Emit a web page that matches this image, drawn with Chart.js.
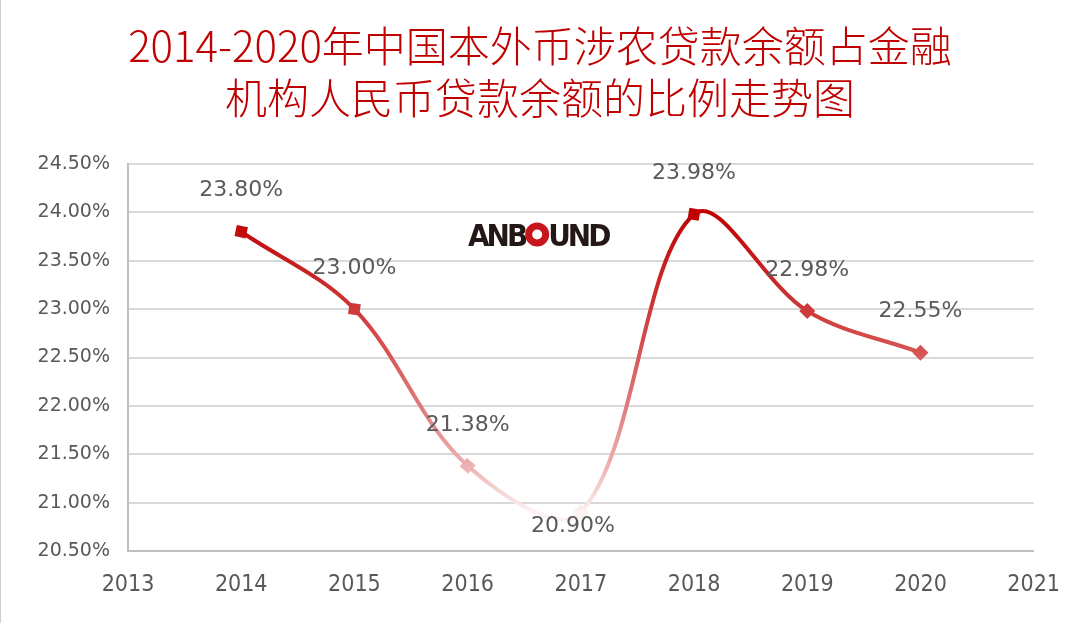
<!DOCTYPE html>
<html>
<head>
<meta charset="utf-8">
<script src="https://cdn.jsdelivr.net/npm/chart.js@4.4.1/dist/chart.umd.min.js"></script>
<style>
html,body{margin:0;padding:0;background:#fff;}
#wrap{width:1080px;height:623px;position:relative;}
</style>
</head>
<body>
<div id="wrap"><canvas id="c" width="1080" height="623"></canvas></div>
<script>
const titleLines = ['2014-2020年中国本外币涉农贷款余额占金融', '机构人民币贷款余额的比例走势图'];
const years = [2014, 2015, 2016, 2017, 2018, 2019, 2020];
const shares = [23.80, 23.00, 21.38, 20.90, 23.98, 22.98, 22.55];
const yTicks = [20.5, 21.0, 21.5, 22.0, 22.5, 23.0, 23.5, 24.0, 24.5];
const xTicks = [2013, 2014, 2015, 2016, 2017, 2018, 2019, 2020, 2021];
const watermarkLeft = 'ANB';
const watermarkRight = 'UND';

const points = years.map((yr, i) => ({x: yr, y: shares[i]}));

let gradCache = null;
function lineGradient(ctx) {
  const chart = ctx.chart;
  const ca = chart.chartArea;
  if (!ca) return '#c00000';
  const ys = chart.scales.y;
  const key = ca.top + '-' + ca.bottom;
  if (gradCache && gradCache.key === key) return gradCache.g;
  const y0 = ys.getPixelForValue(24.0);
  const y1 = ys.getPixelForValue(20.9);
  const g = chart.ctx.createLinearGradient(0, y0, 0, y1);
  g.addColorStop(0, '#c00000');
  g.addColorStop(0.3, '#cd3434');
  g.addColorStop(0.45, '#d75151');
  g.addColorStop(0.65, '#e07c7c');
  g.addColorStop(0.85, '#eeb2b2');
  g.addColorStop(1, '#fdf2f2');
  gradCache = {key, g};
  return g;
}

const labelPlugin = {
  id: 'valueLabels',
  afterDatasetsDraw(chart) {
    const ctx = chart.ctx;
    const meta = chart.getDatasetMeta(0);
    ctx.save();
    ctx.font = '22px "DejaVu Sans"';
    ctx.fillStyle = '#5a5a5a';
    ctx.textAlign = 'center';
    ctx.textBaseline = 'middle';
    const minV = Math.min(...shares);
    meta.data.forEach((pt, i) => {
      const txt = shares[i].toFixed(2) + '%';
      if (shares[i] === minV) ctx.fillText(txt, pt.x - 8, pt.y + 14);
      else ctx.fillText(txt, pt.x, pt.y - 41);
    });
    ctx.restore();
  }
};

const decoPlugin = {
  id: 'deco',
  beforeDraw(chart) {
    const ctx = chart.ctx;
    ctx.save();
    ctx.fillStyle = '#ffffff';
    ctx.fillRect(0, 0, chart.width, chart.height);
    ctx.strokeStyle = '#d0d0d0';
    ctx.lineWidth = 1;
    ctx.beginPath();
    ctx.moveTo(0.5, 0);
    ctx.lineTo(0.5, chart.height);
    ctx.stroke();
    ctx.fillStyle = '#c00000';
    ctx.font = '300 42px "Noto Sans CJK SC"';
    ctx.textAlign = 'center';
    ctx.textBaseline = 'middle';
    ctx.fillText(titleLines[0], 540, 46);
    ctx.fillText(titleLines[1], 540, 98);
    ctx.restore();
  },
  afterDraw(chart) {
    const ctx = chart.ctx;
    ctx.save();
    ctx.font = 'bold 31px "DejaVu Sans Condensed", "DejaVu Sans"';
    ctx.textBaseline = 'alphabetic';
    ctx.textAlign = 'left';
    ctx.fillStyle = '#231815';
    try { ctx.letterSpacing = '-3px'; } catch(e) {}
    let x = 468;
    const base = 246;
    ctx.fillText(watermarkLeft, x, base);
    x += ctx.measureText(watermarkLeft).width;
    const r = 12;
    const cx = x + r;
    const cy = base - 11.5;
    ctx.beginPath();
    ctx.arc(cx, cy, r, 0, Math.PI * 2);
    ctx.fillStyle = '#c8161d';
    ctx.fill();
    ctx.beginPath();
    ctx.arc(cx, cy, 5, 0, Math.PI * 2);
    ctx.fillStyle = '#ffffff';
    ctx.fill();
    ctx.fillStyle = '#231815';
    ctx.fillText(watermarkRight, cx + r - 1, base);
    ctx.restore();
  }
};

new Chart(document.getElementById('c'), {
  type: 'line',
  data: {
    datasets: [{
      data: points,
      borderColor: lineGradient,
      backgroundColor: lineGradient,
      pointBackgroundColor: lineGradient,
      pointBorderColor: lineGradient,
      borderWidth: 4,
      tension: 0.35,
      pointStyle: 'rect',
      pointRadius: 8,
      pointRotation: [12, 8, 40, 45, 10, 45, 45],
      pointBorderWidth: 0,
      fill: false
    }]
  },
  options: {
    responsive: false,
    animation: false,
    devicePixelRatio: 1,
    layout: {padding: {left: 0, right: 44, top: 164, bottom: 0}},
    plugins: {
      legend: {display: false},
      tooltip: {enabled: false},
      title: {display: false}
    },
    scales: {
      x: {
        type: 'linear',
        min: 2013,
        max: 2021,
        afterBuildTicks(scale) { scale.ticks = xTicks.map(v => ({value: v})); },
        afterFit(scale) { scale.height = 72; },
        ticks: {
          callback: v => String(v),
          color: '#595959',
          font: {family: '"DejaVu Sans Condensed"', size: 23},
          padding: 20
        },
        grid: {display: false, drawTicks: false},
        border: {display: true, color: '#bfbfbf', width: 2}
      },
      y: {
        min: 20.5,
        max: 24.5,
        afterBuildTicks(scale) { scale.ticks = yTicks.map(v => ({value: v})); },
        afterFit(scale) { scale.width = 128; },
        ticks: {
          callback: v => Number(v).toFixed(2) + '%',
          color: '#595959',
          font: {family: '"DejaVu Sans"', size: 19},
          padding: 18
        },
        grid: {color: '#d9d9d9', lineWidth: 2, drawTicks: false},
        border: {display: true, color: '#bfbfbf', width: 2}
      }
    }
  },
  plugins: [decoPlugin, labelPlugin]
});
</script>
</body>
</html>
